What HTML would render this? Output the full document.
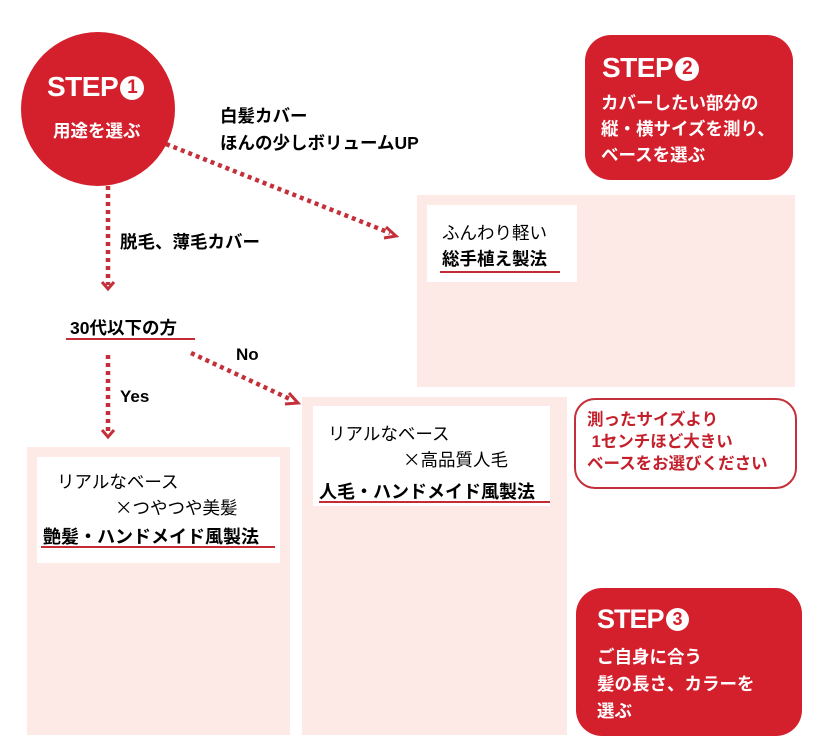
<!DOCTYPE html>
<html><head><meta charset="utf-8"><style>
body{margin:0;width:816px;height:756px;background:#fff;position:relative;overflow:hidden;font-family:"Liberation Sans","Noto Sans CJK JP",sans-serif;}
.a{position:absolute;white-space:nowrap;}
.pk{position:absolute;background:#fde9e5;}
.wb{position:absolute;background:#fff;}
.b{font-weight:bold;}
.ul{position:absolute;height:2px;background:#c62a35;}
.x{font-family:"Noto Sans CJK JP",sans-serif;}
</style></head><body>
<div class="pk" style="left:417px;top:195px;width:378px;height:192px"></div>
<div class="pk" style="left:27px;top:447px;width:263px;height:288px"></div>
<div class="pk" style="left:302px;top:397px;width:265px;height:338px"></div>

<svg class="a" style="left:0;top:0" width="816" height="756">
<circle cx="98" cy="109" r="77" fill="#d41f2c"/>
<rect x="585" y="35" width="208" height="145" rx="26" fill="#d41f2c"/>
<rect x="576" y="588" width="226" height="148" rx="26" fill="#d41f2c"/>
<rect x="575" y="399" width="221" height="89" rx="20" fill="none" stroke="#c4303a" stroke-width="2"/>
<g stroke="#c4303a" stroke-width="4.5" stroke-dasharray="4 4" fill="none">
<line x1="108" y1="186" x2="108" y2="285"/>
<line x1="108" y1="355" x2="108" y2="433"/>
<line x1="166" y1="144" x2="390" y2="233"/>
<line x1="191" y1="353" x2="292" y2="400"/>
</g>
<g stroke="#c4303a" stroke-width="3" fill="none">
<polyline points="102,282 108,289 114,282"/>
<polyline points="102,430 108,437 114,430"/>
<polyline points="386,227 396,236 384,238"/>
<polyline points="289,393 298,403 285,404"/>
</g>
</svg>

<div class="a b" style="left:47px;top:71px;font-size:28px;color:#fff;letter-spacing:-0.5px">STEP<span style="display:inline-block;width:24px;height:24px;border-radius:50%;background:#fff;color:#d41f2c;font-size:19px;text-align:center;line-height:24px;vertical-align:3px;margin-left:2px">1</span></div>
<div class="a b" style="left:53px;top:118px;font-size:17.5px;color:#fff">用途を選ぶ</div>

<div class="a b" style="left:602px;top:52px;font-size:28px;color:#fff;letter-spacing:-0.5px">STEP<span style="display:inline-block;width:24px;height:24px;border-radius:50%;background:#fff;color:#d41f2c;font-size:19px;text-align:center;line-height:24px;vertical-align:3px;margin-left:2px">2</span></div>
<div class="a b" style="left:601px;top:90px;font-size:17.5px;line-height:26px;color:#fff">カバーしたい部分の<br>縦・横サイズを測り、<br>ベースを選ぶ</div>

<div class="a b" style="left:597px;top:604px;font-size:27px;color:#fff;letter-spacing:-1px">STEP<span style="display:inline-block;width:23px;height:23px;border-radius:50%;background:#fff;color:#d41f2c;font-size:18px;text-align:center;line-height:23px;vertical-align:3px;margin-left:2px">3</span></div>
<div class="a b" style="left:597px;top:644px;font-size:17.5px;line-height:27px;color:#fff">ご自身に合う<br>髪の長さ、カラーを<br>選ぶ</div>

<div class="a b" style="left:587px;top:409px;font-size:16.5px;line-height:22px;color:#c4202c">測ったサイズより<br>&nbsp;1センチほど大きい<br>ベースをお選びください</div>

<div class="a b" style="left:220px;top:103px;font-size:17.5px;line-height:27px">白髪カバー<br>ほんの少しボリュームUP</div>
<div class="a b" style="left:120px;top:229px;font-size:17.5px">脱毛、薄毛カバー</div>
<div class="a b" style="left:70px;top:315px;font-size:17.5px">30代以下の方</div>
<div class="ul" style="left:66px;top:338px;width:129px"></div>
<div class="a b" style="left:236px;top:345px;font-size:17px">No</div>
<div class="a b" style="left:120px;top:387px;font-size:17px">Yes</div>

<div class="wb" style="left:427px;top:205px;width:150px;height:77px"></div>
<div class="a" style="left:442px;top:220px;font-size:17.5px">ふんわり軽い</div>
<div class="a b" style="left:442px;top:246px;font-size:17.5px">総手植え製法</div>
<div class="ul" style="left:440px;top:271px;width:120px"></div>

<div class="wb" style="left:313px;top:406px;width:237px;height:100px"></div>
<div class="a" style="left:328px;top:421px;font-size:17.5px">リアルなベース</div>
<div class="a" style="left:403px;top:447px;font-size:17.5px"><span class="x">×</span>高品質人毛</div>
<div class="a b" style="left:319px;top:478px;font-size:18px">人毛・ハンドメイド風製法</div>
<div class="ul" style="left:319px;top:501px;width:231px"></div>

<div class="wb" style="left:37px;top:457px;width:243px;height:106px"></div>
<div class="a" style="left:57px;top:469px;font-size:17.5px">リアルなベース</div>
<div class="a" style="left:115px;top:495px;font-size:17.5px"><span class="x">×</span>つやつや美髪</div>
<div class="a b" style="left:43px;top:523px;font-size:18px">艶髪・ハンドメイド風製法</div>
<div class="ul" style="left:41px;top:546px;width:234px"></div>
</body></html>
